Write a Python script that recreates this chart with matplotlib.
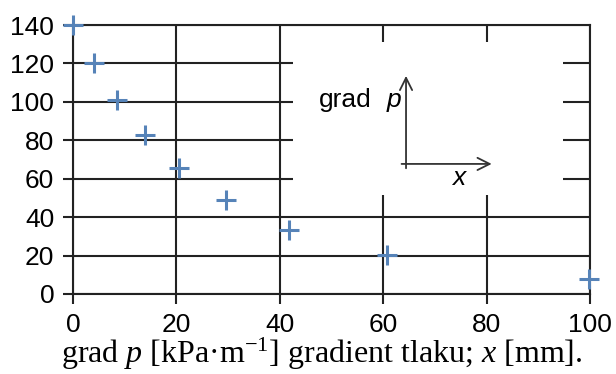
import matplotlib
matplotlib.use('Agg')
import matplotlib.pyplot as plt
from matplotlib.patches import Rectangle

# data
x_mm = [0, 4, 8.5, 14, 20.5, 29.6, 41.8, 60.8, 99.8]
grad_p = [140, 120, 101, 83, 65.8, 49, 33.5, 20.2, 8]
x_ticks = [0, 20, 40, 60, 80, 100]
y_ticks = [0, 20, 40, 60, 80, 100, 120, 140]

plt.rcParams['font.family'] = 'Liberation Sans'
plt.rcParams['mathtext.fontset'] = 'custom'
plt.rcParams['mathtext.rm'] = 'Liberation Serif'
plt.rcParams['mathtext.it'] = 'Liberation Serif:italic'

fig = plt.figure(figsize=(6.16, 3.74), dpi=100)
ax = fig.add_axes([0.1185, 0.214, 0.8395, 0.719])

ax.plot(x_mm, grad_p, linestyle='none', marker='+', markersize=15,
        markeredgewidth=2.2, color='#5683B8', zorder=3, clip_on=False)

ax.set_xlim(0, 100)
ax.set_ylim(0, 140)
ax.set_xticks(x_ticks)
ax.set_yticks(y_ticks)
ax.tick_params(axis='both', labelsize=19, length=7.5, width=1.5, color='#222222')
ax.tick_params(axis='y', pad=6)
ax.tick_params(axis='x', pad=6)
ax.grid(True, color='#222222', linewidth=1.5)
ax.set_axisbelow(True)
for s in ax.spines.values():
    s.set_color('#222222')
    s.set_linewidth(1.5)

# white inset box covering the grid in the upper right
ax.add_patch(Rectangle((42.6, 51.5), 52.2, 79.5, facecolor='white',
                       edgecolor='none', zorder=1))

arrow = dict(arrowstyle='->', color='#333333', lw=1.3, mutation_scale=22)
ax.annotate('', xy=(64.4, 115), xytext=(64.4, 64), arrowprops=arrow, zorder=2)
ax.annotate('', xy=(81.5, 67.7), xytext=(63, 67.7), arrowprops=arrow, zorder=2)
ax.text(47.6, 101, 'grad', fontsize=19, ha='left', va='center', zorder=2)
ax.text(63.4, 101, 'p', fontsize=19, style='italic', ha='right', va='center', zorder=2)
ax.text(74.5, 60.5, 'x', fontsize=19, style='italic', ha='center', va='center', zorder=2)

fig.text(0.523, 0.03,
         r'grad $\mathit{p}$ [kPa·m$^{\mathrm{-1}}$] gradient tlaku; $\mathit{x}$ [mm].',
         family='Liberation Serif', fontsize=23, ha='center', va='baseline')

fig.savefig('out.png', dpi=100)
